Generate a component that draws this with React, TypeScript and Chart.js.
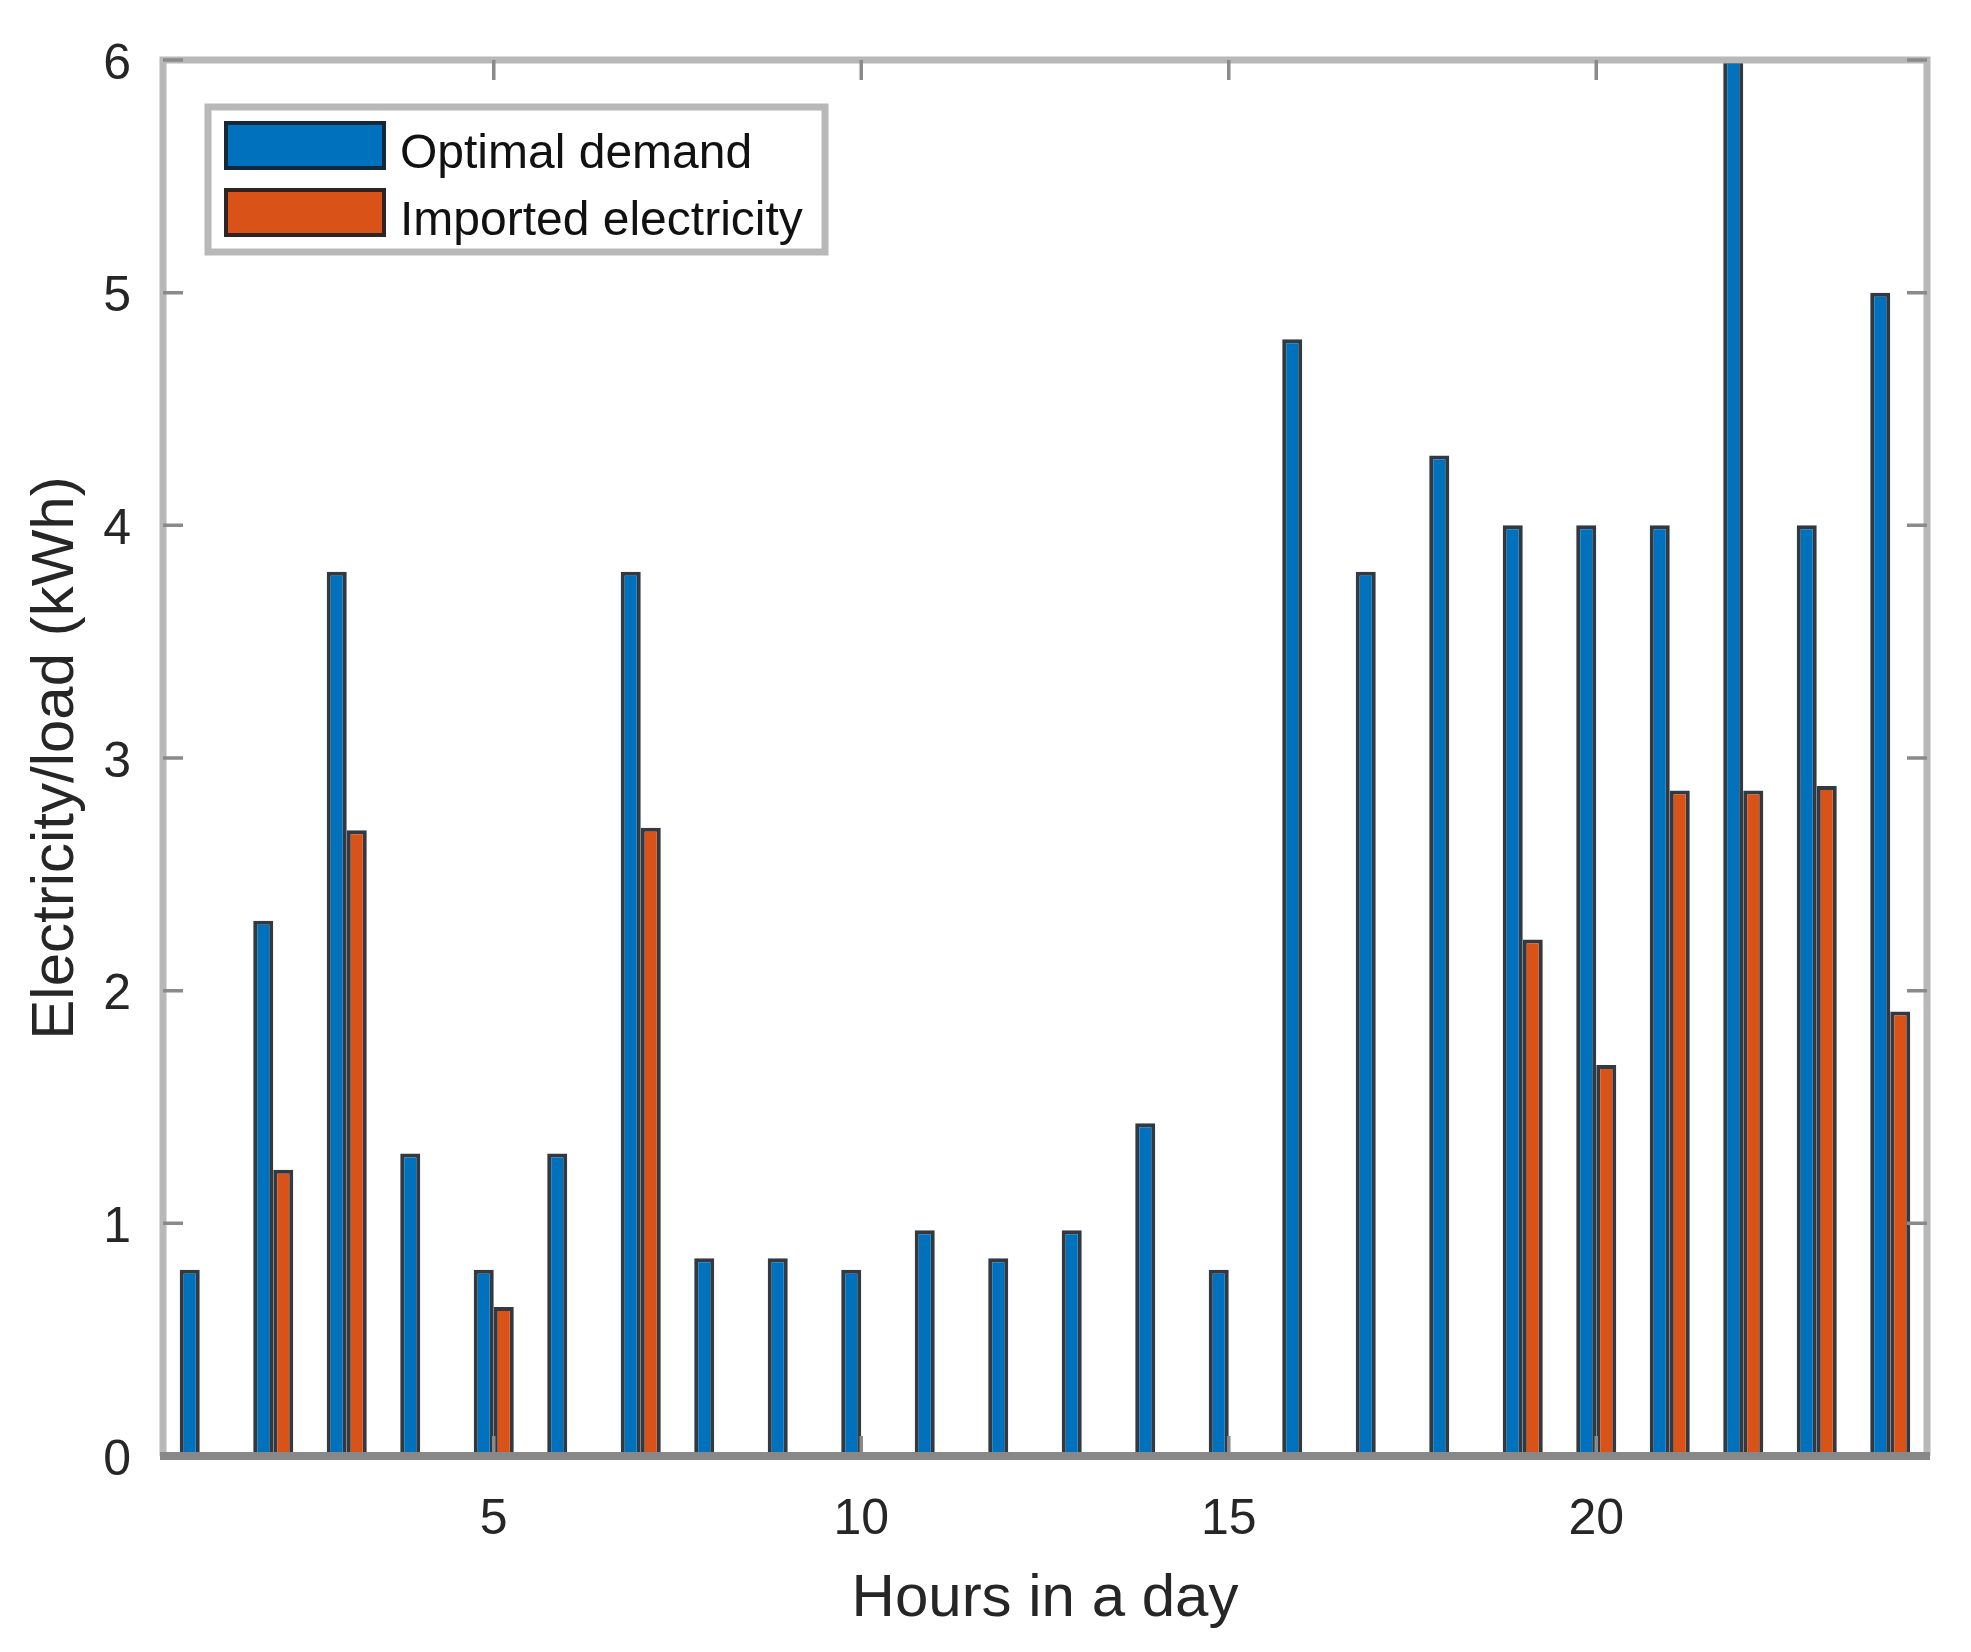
import React, { useEffect, useRef } from "react";
import { Chart, registerables } from "chart.js";

Chart.register(...registerables);

const hours: string[] = Array.from({ length: 24 }, (_, i) => String(i + 1));
const optimalDemand: number[] = [
  0.8, 2.3, 3.8, 1.3, 0.8, 1.3, 3.8, 0.85, 0.85, 0.8, 0.97, 0.85,
  0.97, 1.43, 0.8, 4.8, 3.8, 4.3, 4.0, 4.0, 4.0, 6.0, 4.0, 5.0,
];
const importedElectricity: number[] = [
  0, 1.23, 2.69, 0, 0.64, 0, 2.7, 0, 0, 0, 0, 0,
  0, 0, 0, 0, 0, 0, 2.22, 1.68, 2.86, 2.86, 2.88, 1.91,
];
const xTickLabels: string[] = ["5", "10", "15", "20"];
const yTicks: number[] = [0, 1, 2, 3, 4, 5, 6];
const seriesNames: string[] = ["Optimal demand", "Imported electricity"];
const seriesColors: string[] = ["#0072BD", "#D95319"];

const FONT = "'Liberation Sans', Arial, Helvetica, sans-serif";
const TEXT = "#262626";
const AXIS = "#b8b8b8";
const TICK = "#8a8a8a";
const EDGE = "rgba(22,30,38,0.88)";

const boxPlugin = {
  id: "matlabBox",
  afterDatasetsDraw(chart: any) {
    const { ctx, chartArea } = chart;
    const { left, right, top, bottom } = chartArea;
    const xs = chart.scales.x;
    const ys = chart.scales.y;
    ctx.save();
    // box
    ctx.strokeStyle = AXIS;
    ctx.lineWidth = 7;
    ctx.beginPath();
    ctx.moveTo(left, bottom);
    ctx.lineTo(left, top);
    ctx.lineTo(right, top);
    ctx.lineTo(right, bottom);
    ctx.stroke();
    // ticks
    ctx.strokeStyle = TICK;
    ctx.lineWidth = 3.5;
    const tl = 20;
    ctx.beginPath();
    xTickLabels.forEach((lab) => {
      const idx = hours.indexOf(lab);
      const px = xs.getPixelForValue(idx);
      ctx.moveTo(px, top);
      ctx.lineTo(px, top + tl);
      ctx.moveTo(px, bottom);
      ctx.lineTo(px, bottom - tl);
    });
    yTicks.forEach((v) => {
      const py = ys.getPixelForValue(v);
      ctx.moveTo(left, py);
      ctx.lineTo(left + tl, py);
      ctx.moveTo(right, py);
      ctx.lineTo(right - tl, py);
    });
    ctx.stroke();
    // baseline
    ctx.strokeStyle = "#888888";
    ctx.lineWidth = 8;
    const by = ys.getPixelForValue(0);
    ctx.beginPath();
    ctx.moveTo(left - 3, by);
    ctx.lineTo(right + 3, by);
    ctx.stroke();

    // legend
    const lx = left + 45;
    const ly = top + 47;
    const lw = 617;
    const lh = 145;
    ctx.fillStyle = "#ffffff";
    ctx.fillRect(lx, ly, lw, lh);
    ctx.strokeStyle = AXIS;
    ctx.lineWidth = 7;
    ctx.strokeRect(lx, ly, lw, lh);
    chart.data.datasets.forEach((ds: any, i: number) => {
      const sx = lx + 16;
      const sy = ly + 14 + i * 67;
      const sw = 162;
      const sh = 49;
      ctx.fillStyle = ds.backgroundColor;
      ctx.fillRect(sx, sy, sw, sh);
      ctx.strokeStyle = EDGE;
      ctx.lineWidth = 4;
      ctx.strokeRect(sx + 2, sy + 2, sw - 4, sh - 4);
      ctx.fillStyle = "#111111";
      ctx.font = `48px ${FONT}`;
      ctx.textAlign = "left";
      ctx.textBaseline = "middle";
      ctx.fillText(ds.label, lx + 192, sy + sh / 2 + 9);
    });
    ctx.restore();
  },
};

export default function App() {
  const ref = useRef<HTMLCanvasElement | null>(null);
  useEffect(() => {
    if (!ref.current) return;
    const chart = new Chart(ref.current, {
      type: "bar",
      data: {
        labels: hours,
        datasets: [
          {
            label: seriesNames[0],
            data: optimalDemand,
            backgroundColor: seriesColors[0],
            borderColor: EDGE,
            borderWidth: 4,
            borderSkipped: false,
            categoryPercentage: 0.545,
            barPercentage: 1,
          },
          {
            label: seriesNames[1],
            data: importedElectricity,
            backgroundColor: seriesColors[1],
            borderColor: EDGE,
            borderWidth: 4,
            borderSkipped: false,
            categoryPercentage: 0.545,
            barPercentage: 1,
          },
        ],
      },
      options: {
        responsive: false,
        animation: false,
        devicePixelRatio: 1,
        layout: { padding: { left: 0, right: 44, top: 60, bottom: 0 } },
        plugins: {
          legend: { display: false },
          tooltip: { enabled: false },
        },
        scales: {
          x: {
            type: "category",
            offset: true,
            grid: { display: false },
            border: { display: false },
            ticks: {
              autoSkip: false,
              maxRotation: 0,
              minRotation: 0,
              padding: 26,
              color: TEXT,
              font: { family: FONT, size: 50 },
              callback: (_v: any, i: number) =>
                xTickLabels.includes(hours[i]) ? hours[i] : "",
            },
            title: {
              display: true,
              text: "Hours in a day",
              color: TEXT,
              font: { family: FONT, size: 60 },
              padding: { top: 0, bottom: 17 },
            },
            afterFit: (s: any) => {
              s.height = 196;
            },
          },
          y: {
            type: "linear",
            min: 0,
            max: 6,
            grid: { display: false },
            border: { display: false },
            ticks: {
              stepSize: 1,
              padding: 24,
              labelOffset: 5,
              color: TEXT,
              font: { family: FONT, size: 50 },
            },
            title: {
              display: true,
              text: "Electricity/load (kWh)",
              color: TEXT,
              font: { family: FONT, size: 60 },
              padding: { top: 20, bottom: 0 },
            },
            afterFit: (s: any) => {
              s.width = 163;
            },
          },
        },
      },
      plugins: [boxPlugin],
    });
    return () => chart.destroy();
  }, []);
  return (
    <div
      style={{
        position: "absolute",
        left: 0,
        top: 0,
        width: 1971,
        height: 1652,
        background: "#ffffff",
      }}
    >
      <canvas
        ref={ref}
        width={1971}
        height={1652}
        style={{ width: 1971, height: 1652, display: "block" }}
      />
    </div>
  );
}
